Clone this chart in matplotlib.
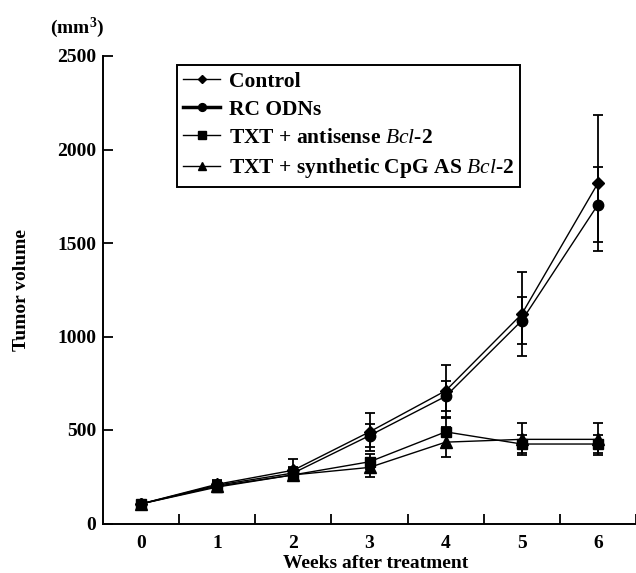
import matplotlib
matplotlib.use('Agg')
import matplotlib.pyplot as plt

plt.rcParams['font.family'] = ['Liberation Serif', 'DejaVu Serif']
plt.rcParams['font.weight'] = 'bold'
plt.rcParams['mathtext.fontset'] = 'custom'
plt.rcParams['mathtext.it'] = 'Liberation Serif:style=italic:weight=normal'
plt.rcParams['mathtext.rm'] = 'Liberation Serif:weight=bold'

# values (mm^3)
weeks = [0, 1, 2, 3, 4, 5, 6]
control = [105, 210, 285, 490, 710, 1120, 1820]
control_err = [0, 20, 60, 100, 140, 225, 365]
rc_odns = [105, 205, 270, 470, 680, 1085, 1705]
rc_odns_err = [0, 20, 30, 60, 80, 125, 200]
antisense = [105, 195, 260, 330, 490, 425, 425]
antisense_err = [0, 25, 35, 40, 75, 50, 50]
cpg = [105, 200, 260, 300, 435, 450, 450]
cpg_err = [0, 25, 30, 50, 80, 85, 85]

labels = ['Control', 'RC ODNs',
          r'TXT + antisense $\mathit{Bcl}$-$\mathit{2}$',
          r'TXT + synthetic CpG AS $\mathit{Bcl}$-$\mathit{2}$']

fig = plt.figure(figsize=(6.36, 5.73), dpi=100)
ax = fig.add_axes([103 / 636, 1 - 523.5 / 573, 1 - 103 / 636, (523.5 - 56) / 573])

series = [
    (control, control_err, 'D', 6.0),
    (rc_odns, rc_odns_err, 'o', 7.5),
    (antisense, antisense_err, 's', 7.5),
    (cpg, cpg_err, '^', 8.0),
]
for (vals, errs, mk, ms), lab in zip(series, labels):
    ax.errorbar(weeks, vals, yerr=errs, fmt='none', ecolor='black',
                elinewidth=1.3, capsize=3.5, capthick=1.3)
    ax.plot(weeks, vals, color='black', lw=1.0, marker=mk, ms=ms, label=lab)

ax.set_xlim(-0.5, 6.5)
ax.set_ylim(0, 2500)
ax.set_yticks([0, 500, 1000, 1500, 2000, 2500])
ax.set_xticks(weeks)
ax.set_xticks([0.5, 1.5, 2.5, 3.5, 4.5, 5.5, 6.5], minor=True)
ax.tick_params(axis='x', which='major', length=0, pad=8, labelsize=14)
ax.tick_params(axis='x', which='minor', direction='in', length=7, width=1.3)
ax.tick_params(axis='y', direction='in', length=7, width=1.3, pad=5, labelsize=14)
ax.spines['top'].set_visible(False)
ax.spines['right'].set_visible(False)
ax.spines['left'].set_linewidth(1.4)
ax.spines['bottom'].set_linewidth(1.4)

leg = ax.legend(loc='upper left', bbox_to_anchor=(177 / 636, 1 - 65 / 573),
                bbox_transform=fig.transFigure, borderaxespad=0, fontsize=15.5,
                fancybox=False, edgecolor='black', framealpha=1,
                handlelength=1.7, handletextpad=0.4, labelspacing=0.38,
                borderpad=0.3, markerscale=0.75)
leg.get_frame().set_linewidth(1.4)
leg.get_lines()[1].set_linewidth(2.5)

fig.text(77 / 636, 1 - 28 / 573, '(mm$^{3}$)', ha='center', va='center', fontsize=14)
fig.text(22 / 636, 1 - 290 / 573, 'Tumor volume', rotation=90, ha='center', va='center', fontsize=14)
fig.text(376 / 636, 1 - 563 / 573, 'Weeks after treatment', ha='center', va='center', fontsize=14)

fig.savefig('out.png', dpi=100)
